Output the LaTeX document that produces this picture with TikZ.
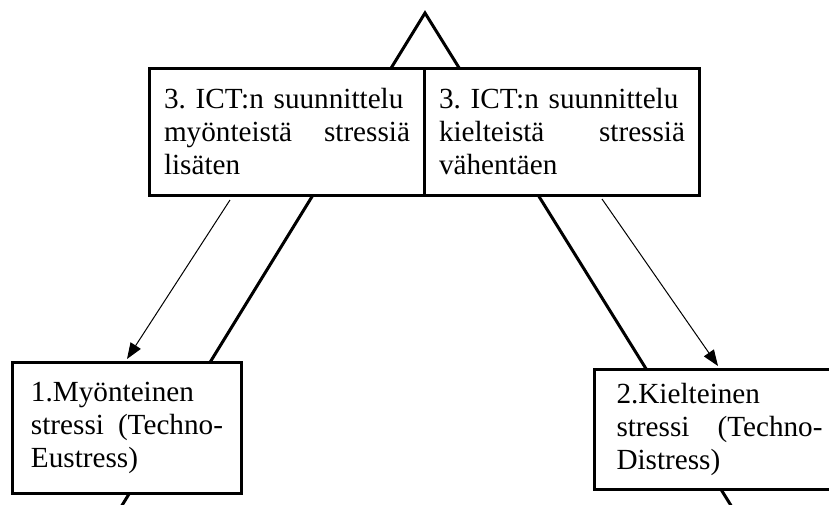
\documentclass[tikz,border=0pt]{standalone}
\usepackage{fontspec}
\setmainfont{Liberation Serif}
\usetikzlibrary{arrows.meta, positioning}
\tikzset{
  stressbox/.style={rectangle,draw,line width=1.5pt,fill=white,align=left,inner ysep=0pt,
    font=\fontsize{14.6}{16.5}\selectfont\frenchspacing},
  topbox/.style={stressbox,minimum width=137.5pt,minimum height=63.5pt,text width=123pt,inner xsep=7.25pt},
  leftbox/.style={stressbox,minimum width=114.5pt,minimum height=65.5pt,text width=96pt,inner xsep=9.25pt},
  rightbox/.style={stressbox,minimum width=125pt,minimum height=60pt,text width=103pt,inner xsep=11pt},
  side/.style={line width=1.5pt,line join=miter},
  line/.style={-{Triangle[length=8pt,width=6pt]},line width=0.5pt}
}

\begin{document}
\begin{tikzpicture}[x=0.5pt,y=-0.5pt]
\useasboundingbox (0,0) rectangle (829,504);
\clip (0,0) rectangle (829,504);
% big triangle, behind the boxes
\coordinate (apex) at (425,13);
\coordinate (footl) at (113,520);
\coordinate (footr) at (740,520);
\draw[side] (footl) -- (apex) -- (footr);
% boxes
\node[topbox,anchor=north west] (tl) at (148,67) {\mbox{3. ICT:n suunnittelu}\\ myönteistä\hfill stressiä\\ lisäten};
\node[topbox,right=-1.5pt of tl] (tr) {\mbox{3. ICT:n suunnittelu}\\ kielteistä\hfill stressiä\\ vähentäen};
\node[leftbox,anchor=north west] (eu) at (11,361) {1.Myönteinen\\ stressi\hfill(Techno-\\ Eustress)};
\node[rightbox,anchor=north west] (di) at (593,368) {2.Kielteinen\\ stressi\hfill(Techno-\\ Distress)};
% thin arrows
\coordinate (eustart) at ([shift={(82,3)}]tl.south west);
\coordinate (euend) at ([shift={(116,-2)}]eu.north west);
\coordinate (distart) at ([shift={(179,2)}]tr.south west);
\coordinate (diend) at ([shift={(125,-2)}]di.north west);
\draw[line] (eustart) -- (euend);
\draw[line] (distart) -- (diend);
\end{tikzpicture}
\end{document}
